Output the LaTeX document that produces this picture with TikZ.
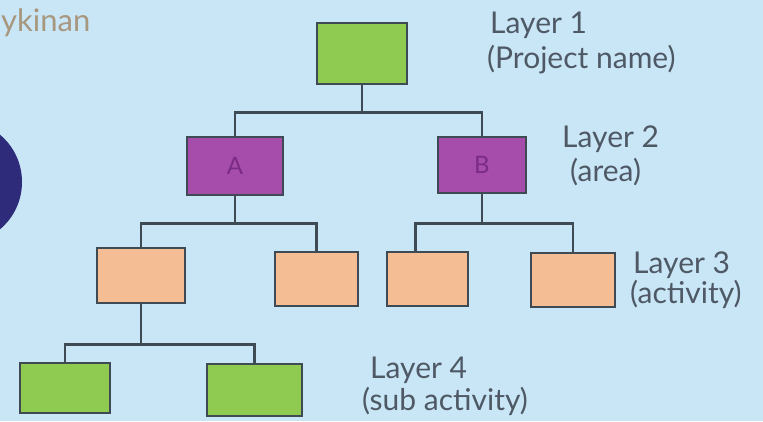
\documentclass[tikz,border=0pt]{standalone}
\usepackage{fontspec}
\setmainfont{Lato}
\usetikzlibrary{calc}

\definecolor{paper}{HTML}{C9E6F6}
\definecolor{ink}{HTML}{3E4A54}
\definecolor{pen}{HTML}{4E5965}
\definecolor{leaf}{HTML}{8FCB50}
\definecolor{plum}{HTML}{A64DAB}
\definecolor{plumtext}{HTML}{7A2C84}
\definecolor{peach}{HTML}{F5BD93}
\definecolor{navy}{HTML}{2D2B7A}
\definecolor{tan}{HTML}{A8977F}

\begin{document}
\begin{tikzpicture}[x=1pt,y=-1pt,
  box/.style={draw=ink, line width=2.6pt, inner sep=0pt},
  wire/.style={draw=ink, line width=2.6pt},
  lbl/.style={text=pen, inner sep=0pt, anchor=base west, font=\fontsize{30}{34}\selectfont}]
\fill[paper] (0,0) rectangle (763,421);
\useasboundingbox (0,0) rectangle (763,421);

% bits on the left edge
\begin{scope}
\clip (0,0) rectangle (763,421);
\fill[navy] (-40,182) circle (62pt);
\end{scope}
\node[text=tan, inner sep=0pt, anchor=base west, font=\fontsize{31}{31}\selectfont] (word) at (1,31) {ykinan};

% layer 1
\node[box, fill=leaf, minimum width=90pt, minimum height=61pt] (top) at (362,53.5) {};
% layer 2
\node[box, fill=plum, minimum width=96pt, minimum height=58pt, text=plumtext, font=\fontsize{24}{24}\selectfont] (A) at (235,166) {A};
\node[box, fill=plum, minimum width=88pt, minimum height=56pt, text=plumtext, font=\fontsize{24}{24}\selectfont] (B) at (482,165) {B};
% layer 3
\node[box, fill=peach, minimum width=88pt, minimum height=55pt] (o1) at (141,275.5) {};
\node[box, fill=peach, minimum width=83pt, minimum height=54pt] (o2) at (316.5,279) {};
\node[box, fill=peach, minimum width=81pt, minimum height=54pt] (o3) at (427.5,279) {};
\node[box, fill=peach, minimum width=84pt, minimum height=54pt] (o4) at (573,280) {};
% layer 4
\node[box, fill=leaf, minimum width=90pt, minimum height=50pt] (g1) at (65,388) {};
\node[box, fill=leaf, minimum width=95pt, minimum height=52pt] (g2) at (254.5,390) {};

% connectors
\coordinate (j1) at ($(top.south)+(0,27)$);
\coordinate (j2) at ($(A.south)+(0,27)$);
\coordinate (j3) at ($(B.south)+(0,29)$);
\coordinate (j4) at ($(o1.south)+(0,40)$);
\draw[wire] (top.south) -- (j1);
\draw[wire] (A.north) |- (j1) -| (B.north);
\draw[wire] (A.south) -- (j2);
\draw[wire] (o1.north) |- (j2) -| (o2.north);
\draw[wire] (B.south) -- (j3);
\draw[wire] ($(o3.north)+(-12,0)$) |- (j3) -| (o4.north);
\draw[wire] (o1.south) -- (j4);
\draw[wire] (g1.north) |- (j4) -| (g2.north);

% layer names
\node[lbl] (l1a) at (490,33) {Layer 1};
\node[lbl] (l1b) at (487,68) {(Project name)};
\node[lbl] (l2a) at (562,147) {Layer 2};
\node[lbl] (l2b) at (570,181) {(area)};
\node[lbl] (l3a) at (633,273) {Layer 3};
\node[lbl] (l3b) at (630,303) {(activity)};
\node[lbl] (l4a) at (370,378) {Layer 4};
\node[lbl] (l4b) at (362,410) {(sub activity)};
\end{tikzpicture}
\end{document}
